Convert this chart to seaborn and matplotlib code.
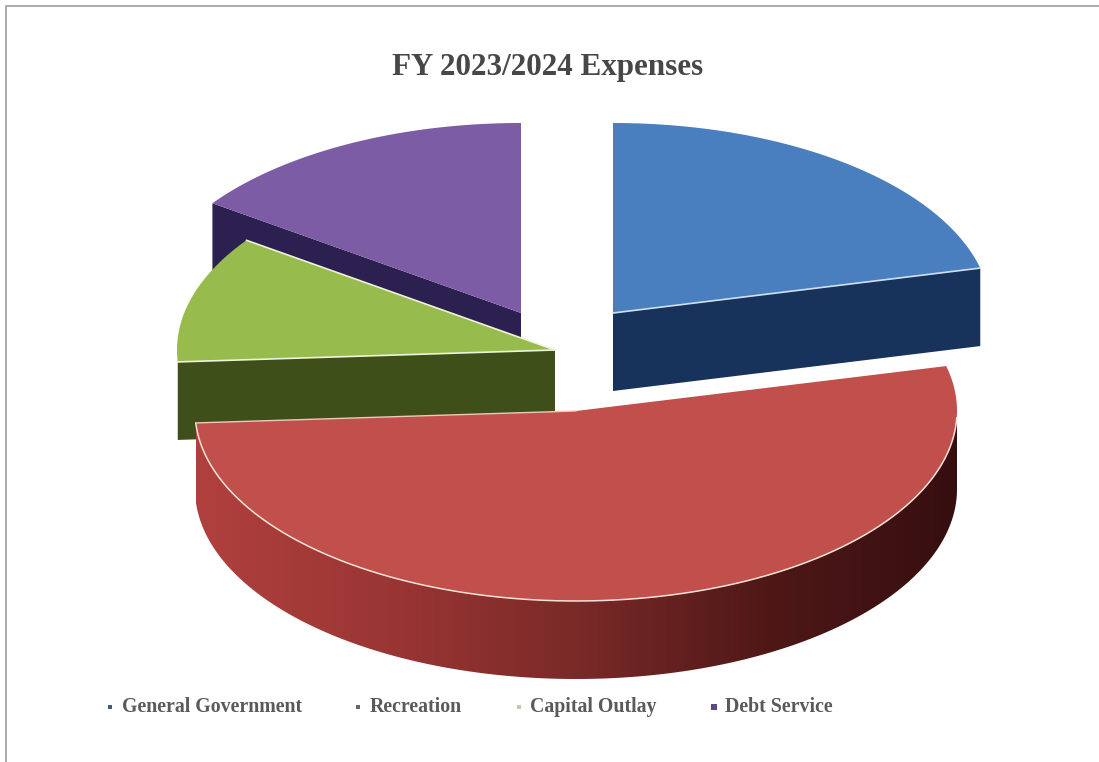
import numpy as np
import matplotlib
matplotlib.use("Agg")
import matplotlib.pyplot as plt
from matplotlib.colors import LinearSegmentedColormap
from matplotlib.patches import Polygon
import seaborn as sns

# Share of expenses per category, percent
categories = ["General Government", "Recreation", "Capital Outlay", "Debt Service"]
shares = [21.2, 52.8, 10.8, 15.2]
title = "FY 2023/2024 Expenses"

# Colours
top_colors = sns.color_palette(["#4a7fbf", "#c14f4b", "#97bb4c", "#7c5ca4"])
cut_colors = sns.color_palette(["#17335c", "#7a2523", "#3f4f1a", "#2b2050"])
legend_colors = ["#46587a", "#6f6470", "#c3c9ae", "#5a4a80"]
wall_shades = LinearSegmentedColormap.from_list(
    "wall", ["#b0403e", "#9a3634", "#7a2a28", "#4f1817", "#360e10"])

# Projected pie geometry, in figure pixels
apex = [(613, 313), (576, 411), (555, 350), (521, 313)]
radius_x = [378, 381, 378, 378]
radius_y = 190
depth = 78
start_angle = 90.0

# Legend layout, in figure pixels
legend_y = 707
legend_baseline = 712
marker_x = [110, 358, 519, 714]
label_x = [122, 370, 530, 725]

sns.set_theme(style="white")
plt.rcParams["font.family"] = ["Liberation Serif", "DejaVu Serif"]

fig = plt.figure(figsize=(10.99, 7.62), dpi=100, facecolor="white")
ax = fig.add_axes([0, 0, 1, 1])
ax.axis("off")

# Frame along the top and left
ax.plot([5.5, 5.5, 1099], [762, 6, 6], color="#ababab", lw=1.4)

# Slice limits, clockwise from twelve o'clock
sweeps = np.array(shares) / np.sum(shares) * 360.0
ends = start_angle - np.cumsum(sweeps)
starts = ends + sweeps


def rim(i, t):
    t = np.radians(t)
    return apex[i][0] + radius_x[i] * np.cos(t), apex[i][1] - radius_y * np.sin(t)


def cut_face(i, t, color):
    x, y = rim(i, t)
    ax.fill([apex[i][0], x, x, apex[i][0]],
            [apex[i][1], y, y + depth, apex[i][1] + depth],
            color=color, lw=0)


def top_face(i):
    t = np.linspace(starts[i], ends[i], 200)
    x, y = rim(i, t)
    ax.fill(np.r_[apex[i][0], x], np.r_[apex[i][1], y], color=top_colors[i], lw=0)


def radial_edge(i, t, color):
    x, y = rim(i, t)
    ax.plot([apex[i][0], x], [apex[i][1], y], color=color, lw=1.2, solid_capstyle="round")


# Debt Service sits at the back
cut_face(3, starts[3], cut_colors[3])
top_face(3)

# General Government
cut_face(0, ends[0], cut_colors[0])
top_face(0)
radial_edge(0, ends[0], "#cfe0f2")

# Capital Outlay
cut_face(2, starts[2], cut_colors[2])
top_face(2)
radial_edge(2, starts[2], "#eef3dc")
radial_edge(2, ends[2], "#eef3dc")

# Recreation wall: a left-to-right shade clipped to the outer rim
wall_t = np.linspace(ends[1], 0.0, 400)
wall_x, wall_y = rim(1, wall_t)
outline = np.c_[np.r_[wall_x, wall_x[::-1]], np.r_[wall_y, wall_y[::-1] + depth]]
shade = ax.imshow(np.linspace(0, 1, 512)[None, :], cmap=wall_shades, aspect="auto",
                  extent=(wall_x.min(), wall_x.max(), 762, 0), zorder=2)
shade.set_clip_path(Polygon(outline, closed=True, transform=ax.transData))

# Recreation top, above its wall
t = np.linspace(starts[1], ends[1], 300)
x, y = rim(1, t)
ax.fill(np.r_[apex[1][0], x], np.r_[apex[1][1], y], color=top_colors[1], lw=0, zorder=3)
ax.plot(*rim(1, np.linspace(-2, ends[1], 300)), color="#f7e3d8", lw=1.1, zorder=4)
x0, y0 = rim(1, ends[1])
ax.plot([apex[1][0], x0], [apex[1][1], y0], color="#ecc9b8", lw=1.0, zorder=4)

# Title and legend
ax.text(547.5, 67, title, ha="center", va="center", fontsize=22.4, fontweight="bold", color="#474747")
for name, mx, tx, c in zip(categories, marker_x, label_x, legend_colors):
    ax.scatter([mx], [legend_y], s=22 if name == "Debt Service" else 9, marker="s", color=c, lw=0)
    ax.text(tx, legend_baseline, name, ha="left", va="baseline", fontsize=14.3, fontweight="bold", color="#5a5a5a")

ax.set_xlim(0, 1099)
ax.set_ylim(762, 0)
fig.savefig("out.png", dpi=100, facecolor="white")
